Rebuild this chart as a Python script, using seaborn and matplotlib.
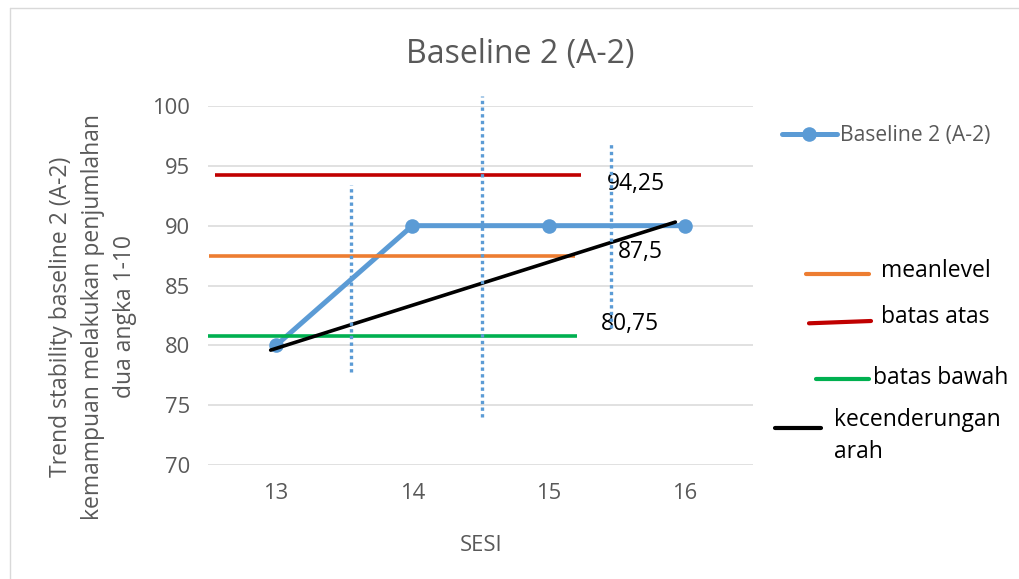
import matplotlib
matplotlib.use("Agg")
import matplotlib.pyplot as plt
from matplotlib.lines import Line2D
import seaborn as sns
import pandas as pd

# Session data (baseline phase A-2)
sesi = [13, 14, 15, 16]
nilai = [80, 90, 90, 90]

# Stability band
level_names = ["batas atas", "meanlevel", "batas bawah"]
level_values = [94.25, 87.5, 80.75]
level_labels = ["94,25", "87,5", "80,75"]
level_colors = ["#C00000", "#ED7D31", "#00B050"]
level_start = [12.55, 12.51, 12.48]
level_end = [15.24, 15.19, 15.21]
label_x = [15.43, 15.51, 15.38]
label_y = [92.98, 87.28, 81.29]

# Trend direction line
trend_sesi = [12.96, 15.93]
trend_nilai = [79.6, 90.3]

# Dotted split lines
split_x = [13.55, 14.51, 15.46]
split_low = [77.8, 74.05, 81.45]
split_high = [93.4, 100.8, 96.9]

sns.set_theme(style="white")
plt.rcParams["font.family"] = ["Open Sans", "DejaVu Sans"]

W, H = 1020, 579
fig = plt.figure(figsize=(W / 100, H / 100), dpi=100)
fig.patch.set_facecolor("white")
ax = fig.add_axes([208 / W, 1 - 465 / H, 545 / W, 359 / H])

def fx(px):
    return px / W

def fy(py):
    return 1 - py / H

BLUE = "#5B9BD5"
GREY_TXT = "#595959"

df = pd.DataFrame({"SESI": sesi, "Nilai": nilai})
sns.lineplot(data=df, x="SESI", y="Nilai", ax=ax, color=BLUE, linewidth=3.6,
             marker="o", markersize=10.5, markeredgewidth=0, label="Baseline 2 (A-2)",
             zorder=3)

ax.set_xlim(12.5, 16.5)
ax.set_ylim(70, 100)
ax.set_xticks(sesi)
ax.set_yticks(range(70, 101, 5))
ax.grid(axis="y", color="#D9D9D9", linewidth=1.1)
ax.grid(axis="x", visible=False)
ax.set_axisbelow(True)
for s in ax.spines.values():
    s.set_visible(False)
ax.tick_params(axis="both", length=0, labelsize=15.8, labelcolor=GREY_TXT)
ax.tick_params(axis="y", pad=13)
ax.tick_params(axis="x", pad=13)

ax.set_xlabel("SESI", fontsize=15.8, color=GREY_TXT)
ax.xaxis.set_label_coords((481 - 208) / 545, (465 - 535) / 359)
ax.set_ylabel("Trend stability baseline 2 (A-2)\nkemampuan melakukan penjumlahan\ndua angka 1-10",
              fontsize=16.5, color=GREY_TXT, linespacing=1.45, va="center",
              multialignment="center")
ax.yaxis.set_label_coords((93 - 208) / 545, (465 - 317) / 359)

# Band lines, trend and split lines
for v, c, x0, x1 in zip(level_values, level_colors, level_start, level_end):
    ax.plot([x0, x1], [v, v], color=c, linewidth=2.6, solid_capstyle="butt", zorder=4)
for t, x, y in zip(level_labels, label_x, label_y):
    ax.text(x, y, t, fontsize=16.5, color="black", ha="left", va="baseline", zorder=6)
ax.plot(trend_sesi, trend_nilai, color="black", linewidth=2.6, zorder=5)
for x, lo, hi in zip(split_x, split_low, split_high):
    ax.plot([x, x], [lo, hi], color=BLUE, linewidth=2.4, linestyle=(0, (1, 1)),
            clip_on=False, zorder=6)

fig.text(fx(520), fy(63), "Baseline 2 (A-2)", fontsize=23, color=GREY_TXT,
         ha="center", va="baseline")

# Series legend
ax.legend(loc="center left", bbox_to_anchor=(fx(782), fy(136)), bbox_transform=fig.transFigure,
          frameon=False, borderpad=0, borderaxespad=0, handlelength=2.6, handletextpad=0.15,
          fontsize=15.2, labelcolor=GREY_TXT, markerscale=1.0)

# Key for the band and trend lines
key_items = [
    ("meanlevel", "#ED7D31", (806, 274), (869, 274), (881, 277)),
    ("batas atas", "#C00000", (809, 323.3), (871, 321), (881, 323)),
    ("batas bawah", "#00B050", (816, 379), (869, 379), (873, 384)),
    ("kecenderungan\narah", "black", (775, 428), (821, 428), (834, 426)),
]
for text, c, p0, p1, tp in key_items:
    fig.add_artist(Line2D([fx(p0[0]), fx(p1[0])], [fy(p0[1]), fy(p1[1])],
                          transform=fig.transFigure, color=c, linewidth=3.0))
    for i, ln in enumerate(text.split("\n")):
        fig.text(fx(tp[0]), fy(tp[1] + i * 32), ln, fontsize=16.5, color="black",
                 ha="left", va="baseline")

# Chart frame
fig.add_artist(Line2D([fx(10), fx(W)], [fy(8), fy(8)], transform=fig.transFigure,
                      color="#D9D9D9", linewidth=1.0))
fig.add_artist(Line2D([fx(10), fx(10)], [fy(8), fy(H)], transform=fig.transFigure,
                      color="#D9D9D9", linewidth=1.0))

fig.savefig("out.png", dpi=100, facecolor="white")
